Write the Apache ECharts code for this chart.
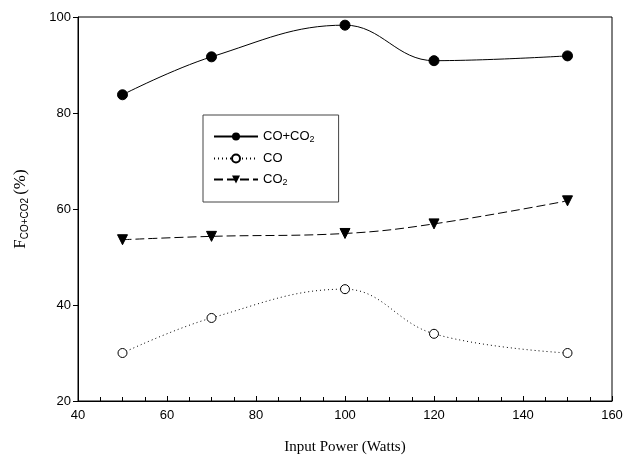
<!DOCTYPE html>
<html>
<head>
<meta charset="utf-8">
<script src="https://cdn.jsdelivr.net/npm/echarts@6/dist/echarts.min.js"></script>
<style>html,body{margin:0;padding:0;background:#fff;}#c{width:637px;height:461px;}</style>
</head>
<body>
<div id="c"></div>
<script>
const power = [50, 70, 100, 120, 150];
const coco2 = [83.8, 91.7, 98.3, 90.9, 91.9];
const co = [30.0, 37.3, 43.3, 34.0, 30.0];
const co2 = [53.6, 54.3, 54.9, 56.9, 61.7];
const xTicks = [40, 60, 80, 100, 120, 140, 160];
const yTicks = [20, 40, 60, 80, 100];

const pair = (xs, ys) => xs.map((x, i) => [x, ys[i]]);
const sans = 'Liberation Sans, Arial, sans-serif';
const serif = 'Liberation Serif, Times New Roman, serif';

const chart = echarts.init(document.getElementById('c'), null, {renderer: 'canvas'});
chart.setOption({
  animation: false,
  backgroundColor: '#fff',
  grid: {left: 78, right: 25, top: 17, bottom: 60, show: true, borderColor: '#000', borderWidth: 1},
  legend: {
    left: 203, top: 115, orient: 'vertical',
    borderColor: '#444', borderWidth: 1,
    padding: [15, 24, 15, 10],
    itemWidth: 44, itemHeight: 10, itemGap: 8,
    textStyle: {
      fontFamily: sans, fontSize: 13, color: '#000',
      rich: {
        a: {fontFamily: sans, fontSize: 13, color: '#000'},
        s: {fontFamily: sans, fontSize: 9, color: '#000', verticalAlign: 'bottom', padding: [6, 0, 0, 0]}
      }
    },
    formatter: function (n) {
      if (n === 'CO+CO2') return '{a|CO+CO}{s|2}';
      if (n === 'CO2') return '{a|CO}{s|2}';
      return '{a|' + n + '}';
    },
    data: ['CO+CO2', 'CO', 'CO2']
  },
  xAxis: {
    type: 'value', min: xTicks[0], max: xTicks[xTicks.length - 1], interval: 20,
    name: 'Input Power (Watts)', nameLocation: 'middle', nameGap: 39,
    nameTextStyle: {fontFamily: serif, fontSize: 15, color: '#000'},
    axisLine: {show: true, onZero: false, lineStyle: {color: '#000', width: 1}},
    axisTick: {show: true, inside: true, length: 5, lineStyle: {color: '#000', width: 1}},
    minorTick: {show: true, splitNumber: 4, length: 4, lineStyle: {color: '#000', width: 1}},
    axisLabel: {fontFamily: sans, fontSize: 13, color: '#000', margin: 8},
    splitLine: {show: false}
  },
  yAxis: {
    type: 'value', min: yTicks[0], max: yTicks[yTicks.length - 1], interval: 20,
    name: '{f|F}{s|CO+CO2}{f|(%)}', nameLocation: 'middle', nameGap: 48, nameRotate: 90,
    nameTextStyle: {
      color: '#000',
      rich: {
        f: {fontFamily: serif, fontSize: 17, color: '#000'},
        s: {fontFamily: sans, fontSize: 10, color: '#000', verticalAlign: 'bottom', padding: [8, 3, 0, 0]}
      }
    },
    axisLine: {show: true, onZero: false, lineStyle: {color: '#000', width: 1}},
    axisTick: {show: true, inside: false, length: 5, lineStyle: {color: '#000', width: 1}},
    axisLabel: {fontFamily: sans, fontSize: 13, color: '#000', margin: 7},
    splitLine: {show: false}
  },
  series: [
    {
      name: 'CO+CO2', type: 'line', smooth: 0.4, data: pair(power, coco2),
      symbol: 'circle', symbolSize: 10,
      itemStyle: {color: '#000', borderColor: '#000'},
      lineStyle: {color: '#000', width: 1, type: 'solid'}
    },
    {
      name: 'CO', type: 'line', smooth: 0.4, data: pair(power, co),
      symbol: 'circle', symbolSize: 9,
      itemStyle: {color: '#fff', borderColor: '#000', borderWidth: 1},
      lineStyle: {color: '#000', width: 1, type: [1, 3]}
    },
    {
      name: 'CO2', type: 'line', smooth: 0.4, data: pair(power, co2),
      symbol: 'triangle', symbolRotate: 180, symbolSize: 10,
      itemStyle: {color: '#000', borderColor: '#000'},
      lineStyle: {color: '#000', width: 1, type: [9, 4]}
    }
  ]
});
</script>
</body>
</html>
